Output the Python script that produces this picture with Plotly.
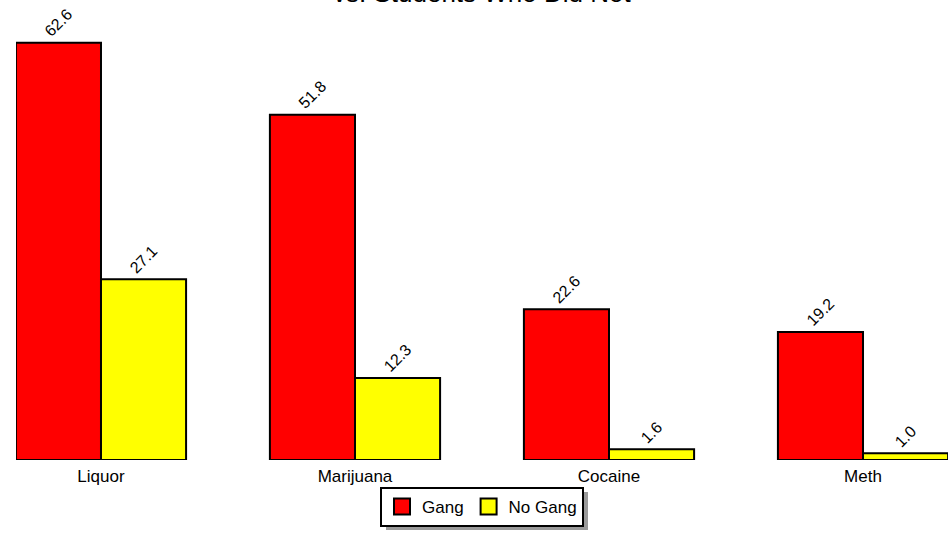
import plotly.graph_objects as go

categories = ["Liquor", "Marijuana", "Cocaine", "Meth"]
gang = [62.6, 51.8, 22.6, 19.2]
no_gang = [27.1, 12.3, 1.6, 1.0]
series_names = ["Gang", "No Gang"]
series_colors = ["#FF0000", "#FFFF00"]
title_text = "vs. Students Who Did Not"

FONT = "Liberation Sans, Arial, sans-serif"

fig = go.Figure()
for name, vals, col in zip(series_names, [gang, no_gang], series_colors):
    fig.add_trace(go.Bar(
        x=categories, y=vals, name=name, showlegend=False,
        marker=dict(color=col, line=dict(color="black", width=2)),
        text=[f"{v:.1f}" for v in vals], textposition="outside", textangle=-45,
        textfont=dict(family=FONT, size=16, color="black"),
        cliponaxis=False,
    ))
# legend entries with larger square swatches
for name, col in zip(series_names, series_colors):
    fig.add_trace(go.Scatter(
        x=[None], y=[None], mode="markers", name=name,
        marker=dict(symbol="square", size=16, color=col, line=dict(color="black", width=2)),
    ))

def px_x(p):
    return (p - 16) / 932.0

def px_y(p):
    return (460 - p) / 460.0

fig.update_layout(
    width=951, height=534,
    margin=dict(l=16, r=3, t=0, b=74),
    paper_bgcolor="white", plot_bgcolor="white",
    barmode="group", bargap=0.33, bargroupgap=0,
    font=dict(family=FONT, size=17, color="black"),
    xaxis=dict(range=[-0.3346, 3.3346], showgrid=False, showline=False, zeroline=False,
               ticks="", tickfont=dict(size=17), ticklabelstandoff=4),
    yaxis=dict(range=[0, 69.0], visible=False),
    showlegend=True,
    legend=dict(orientation="h", x=0.5, xanchor="center", y=px_y(487), yanchor="top",
                bordercolor="black", borderwidth=2, bgcolor="white",
                font=dict(size=17), itemwidth=30, tracegroupgap=0),
    shapes=[dict(type="rect", xref="paper", yref="paper",
                 x0=px_x(386), x1=px_x(588), y0=px_y(492), y1=px_y(530),
                 fillcolor="#9a9a9a", line=dict(width=0), layer="below")],
    annotations=[dict(text=title_text, xref="paper", yref="paper", x=0.5, y=1,
                      xanchor="center", yanchor="bottom", yshift=-10, showarrow=False,
                      font=dict(size=26, color="black"))],
)

fig.write_html("out.html", config={"displayModeBar": False},
               post_script="document.body.style.margin='0';")
